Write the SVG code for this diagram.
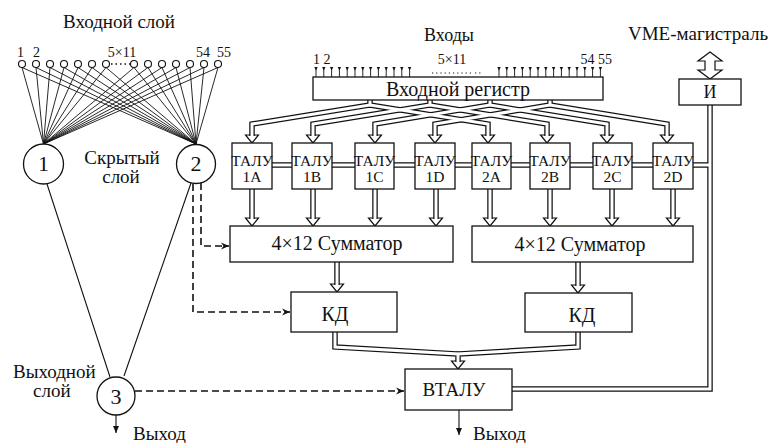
<svg xmlns="http://www.w3.org/2000/svg" width="775" height="443" viewBox="0 0 775 443" font-family="'Liberation Serif','Times New Roman',serif">
<defs>
<style>
text{font-family:"Liberation Serif","Times New Roman",serif;fill:#111}
.t19{font-size:19px}
.t20{font-size:20px}
.t14{font-size:14px}
.tl{font-size:15.5px}
.m{text-anchor:middle}
.box{fill:#fff;stroke:#111;stroke-width:1.3}
.thin{fill:none;stroke:#111;stroke-width:1.1}
.fan{fill:none;stroke:#111;stroke-width:0.9}
.busO{fill:none;stroke:#111;stroke-width:5.5;stroke-linejoin:miter}
.busI{fill:none;stroke:#fff;stroke-width:3;stroke-linejoin:miter}
.dash{fill:none;stroke:#111;stroke-width:1.6;stroke-dasharray:7 4}
.ah{fill:#fff;stroke:#111;stroke-width:1.2}
</style>
<path id="hah" d="M-6.5,0 H6.5 L0,8 Z"/>
<marker id="dArr" markerWidth="9" markerHeight="8" refX="8" refY="4" orient="auto" markerUnits="userSpaceOnUse"><path d="M0,0.5 L8,4 L0,7.5 L2.5,4 Z" fill="#111"/></marker>
<marker id="sArr" markerWidth="7" markerHeight="6" refX="7" refY="3" orient="auto" markerUnits="userSpaceOnUse"><path d="M0,0 L7,3 L0,6 Z" fill="#111"/></marker>
</defs>
<rect width="775" height="443" fill="#fff"/>

<!-- labels -->
<text class="t19 m" x="119" y="28">Входной слой</text>
<g class="t14">
<text class="m" x="20.5" y="57">1</text>
<text class="m" x="36.5" y="57">2</text>
<text class="m" x="122" y="57">5×11</text>
<text class="m" x="203" y="57">54</text>
<text class="m" x="224" y="57">55</text>
</g>
<text class="t19 m" x="122" y="164">Скрытый</text>
<text class="t19 m" x="121" y="183">слой</text>
<text class="t19" x="13" y="378">Выходной</text>
<text class="t19" x="33" y="397">слой</text>
<text class="t19" x="133" y="440">Выход</text>
<text class="t19" x="473" y="440">Выход</text>
<text class="m" style="font-size:18px" x="449" y="41">Входы</text>
<text class="t19" x="628" y="40">VME-магистраль</text>
<g class="t14">
<text x="313" y="64">1 2</text>
<text class="m" x="452" y="64">5×11</text>
<text x="612" y="64" style="text-anchor:end">54 55</text>
</g>

<!-- connectors -->
<g id="connectors">
<path class="fan" d="M22,67.5L43.5,144M36,67.5L43.5,144M50,67.5L43.5,144M64,67.5L43.5,144M78,67.5L43.5,144M92,67.5L43.5,144M106,67.5L43.5,144M134,67.5L43.5,144M148,67.5L43.5,144M162,67.5L43.5,144M176,67.5L43.5,144M190,67.5L43.5,144M204,67.5L43.5,144M218,67.5L43.5,144"/>
<path class="fan" d="M22,67.5L196,144M36,67.5L196,144M50,67.5L196,144M64,67.5L196,144M78,67.5L196,144M92,67.5L196,144M106,67.5L196,144M134,67.5L196,144M148,67.5L196,144M162,67.5L196,144M176,67.5L196,144M190,67.5L196,144M204,67.5L196,144M218,67.5L196,144"/>
<path d="M111,64H131" stroke="#111" stroke-width="1.4" stroke-dasharray="1.5 3" fill="none"/>
<path class="thin" d="M47,184L110,377M191,183L124,376"/>
<path class="dash" d="M201,183V246H229" marker-end="url(#dArr)"/>
<path class="dash" d="M193,184V312H290" marker-end="url(#dArr)"/>
<path class="dash" d="M135,391H404" marker-end="url(#dArr)"/>
<path class="thin" d="M116,415V433" marker-end="url(#sArr)"/>
<path class="thin" d="M459,410V435" marker-end="url(#sArr)"/>
<g fill="#111" stroke="#111" stroke-width="0.9">
<path d="M316,69V77M323.8,69V77M331.6,69V77M339.4,69V77M347.2,69V77M355,69V77M362.8,69V77M370.6,69V77M378.4,69V77M386.2,69V77M394,69V77M401.8,69V77M409.6,69V77"/>
<path d="M499,69V77M506.8,69V77M514.6,69V77M522.4,69V77M530.2,69V77M538,69V77M545.8,69V77M553.6,69V77M561.4,69V77M569.2,69V77M577,69V77M584.8,69V77M592.6,69V77M600.4,69V77"/>
<path stroke="none" d="M314.3,67h3.4l-1.7,3.5zM322.1,67h3.4l-1.7,3.5zM329.9,67h3.4l-1.7,3.5zM337.7,67h3.4l-1.7,3.5zM345.5,67h3.4l-1.7,3.5zM353.3,67h3.4l-1.7,3.5zM361.1,67h3.4l-1.7,3.5zM368.9,67h3.4l-1.7,3.5zM376.7,67h3.4l-1.7,3.5zM384.5,67h3.4l-1.7,3.5zM392.3,67h3.4l-1.7,3.5zM400.1,67h3.4l-1.7,3.5zM407.9,67h3.4l-1.7,3.5z"/>
<path stroke="none" d="M497.3,67h3.4l-1.7,3.5zM505.1,67h3.4l-1.7,3.5zM512.9,67h3.4l-1.7,3.5zM520.7,67h3.4l-1.7,3.5zM528.5,67h3.4l-1.7,3.5zM536.3,67h3.4l-1.7,3.5zM544.1,67h3.4l-1.7,3.5zM551.9,67h3.4l-1.7,3.5zM559.7,67h3.4l-1.7,3.5zM567.5,67h3.4l-1.7,3.5zM575.3,67h3.4l-1.7,3.5zM583.1,67h3.4l-1.7,3.5zM590.9,67h3.4l-1.7,3.5zM598.7,67h3.4l-1.7,3.5z"/>
</g>
<path d="M432,73H472M475,73H481" stroke="#111" stroke-width="1.2" stroke-dasharray="1.2 3" fill="none"/>
<path class="ah" d="M710,52 L722,61 L715,61 L715,70 L722,70 L710,79 L698,70 L705,70 L705,61 L698,61 Z"/>
<use href="#hah" class="ah" x="252" y="135"/>
<use href="#hah" class="ah" x="313" y="135"/>
<use href="#hah" class="ah" x="375" y="135"/>
<use href="#hah" class="ah" x="435" y="135"/>
<use href="#hah" class="ah" x="488" y="135"/>
<use href="#hah" class="ah" x="547" y="135"/>
<use href="#hah" class="ah" x="607" y="135"/>
<use href="#hah" class="ah" x="667" y="135"/>
<use href="#hah" class="ah" x="252" y="218"/>
<use href="#hah" class="ah" x="313" y="218"/>
<use href="#hah" class="ah" x="375" y="218"/>
<use href="#hah" class="ah" x="436" y="218"/>
<use href="#hah" class="ah" x="490" y="218"/>
<use href="#hah" class="ah" x="550" y="218"/>
<use href="#hah" class="ah" x="612" y="218"/>
<use href="#hah" class="ah" x="673" y="218"/>
<use href="#hah" class="ah" x="337" y="284"/>
<use href="#hah" class="ah" x="578" y="285"/>
<use href="#hah" class="ah" x="458" y="361"/>
<g class="busO">
<path d="M370,100V105L252,124V136M370,105L488,124V136"/>
<path d="M430,100V105L313,124V136M430,105L547,124V136"/>
<path d="M490,100V105L375,124V136M490,105L607,124V136"/>
<path d="M550,100V105L435,124V136M550,105L667,124V136"/>
<path d="M252,189V219M313,189V219M375,189V219M436,189V219M490,189V219M550,189V219M612,189V219M673,189V219"/>
<path d="M272,165H292M332,165H355M394,165H415M455,165H472M511,165H530M570,165H593M632,165H653M693,165H710"/>
<path d="M512,389H710V105"/>
<path d="M337,262V285M578,262V286"/>
<path d="M335,332V347L458,354V362M578,332V347L458,354V362"/>
</g>
<g class="busI">
<path d="M370,99V105L252,124V136.5M370,105L488,124V136.5"/>
<path d="M430,99V105L313,124V136.5M430,105L547,124V136.5"/>
<path d="M490,99V105L375,124V136.5M490,105L607,124V136.5"/>
<path d="M550,99V105L435,124V136.5M550,105L667,124V136.5"/>
<path d="M252,188V219.5M313,188V219.5M375,188V219.5M436,188V219.5M490,188V219.5M550,188V219.5M612,188V219.5M673,188V219.5"/>
<path d="M271,165H293M331,165H356M393,165H416M454,165H473M510,165H531M569,165H594M631,165H654M692,165H710"/>
<path d="M511,389H710V104"/>
<path d="M337,261V285.5M578,261V286.5"/>
<path d="M335,331V347L458,354V362.5M578,331V347L458,354V362.5"/>
</g>
</g>

<g id="input-layer" fill="#fff" stroke="#111" stroke-width="1.1">
<circle cx="22" cy="64" r="3.5"/><circle cx="36" cy="64" r="3.5"/><circle cx="50" cy="64" r="3.5"/><circle cx="64" cy="64" r="3.5"/><circle cx="78" cy="64" r="3.5"/><circle cx="92" cy="64" r="3.5"/><circle cx="106" cy="64" r="3.5"/>
<circle cx="134" cy="64" r="3.5"/><circle cx="148" cy="64" r="3.5"/><circle cx="162" cy="64" r="3.5"/><circle cx="176" cy="64" r="3.5"/><circle cx="190" cy="64" r="3.5"/><circle cx="204" cy="64" r="3.5"/><circle cx="218" cy="64" r="3.5"/>
</g>

<g id="n1"><circle class="box" cx="43.5" cy="164" r="20"/><text class="m" style="font-size:22px" x="43.5" y="171">1</text></g>
<g id="n2"><circle class="box" cx="196" cy="164" r="19.5"/><text class="m" style="font-size:22px" x="196" y="171">2</text></g>
<g id="n3"><circle class="box" cx="116" cy="396" r="19"/><text class="m" style="font-size:22px" x="116" y="404">3</text></g>

<g id="register"><rect class="box" x="313" y="77" width="290" height="23"/><text class="t20 m" x="458" y="96">Входной регистр</text></g>
<g id="iface"><rect class="box" x="679" y="79" width="62" height="26"/><text class="m" style="font-size:18px" x="710" y="98">И</text></g>

<g id="talu-1a"><rect class="box" x="232" y="143" width="40" height="46"/><text class="tl m" x="252" y="166">ТАЛУ</text><text class="tl m" x="252" y="182">1A</text></g>
<g id="talu-1b"><rect class="box" x="292" y="143" width="40" height="46"/><text class="tl m" x="312" y="166">ТАЛУ</text><text class="tl m" x="312" y="182">1B</text></g>
<g id="talu-1c"><rect class="box" x="355" y="143" width="39" height="46"/><text class="tl m" x="374.5" y="166">ТАЛУ</text><text class="tl m" x="374.5" y="182">1C</text></g>
<g id="talu-1d"><rect class="box" x="415" y="143" width="40" height="46"/><text class="tl m" x="435" y="166">ТАЛУ</text><text class="tl m" x="435" y="182">1D</text></g>
<g id="talu-2a"><rect class="box" x="472" y="143" width="39" height="46"/><text class="tl m" x="491.5" y="166">ТАЛУ</text><text class="tl m" x="491.5" y="182">2A</text></g>
<g id="talu-2b"><rect class="box" x="530" y="143" width="40" height="46"/><text class="tl m" x="550" y="166">ТАЛУ</text><text class="tl m" x="550" y="182">2B</text></g>
<g id="talu-2c"><rect class="box" x="593" y="143" width="39" height="46"/><text class="tl m" x="612.5" y="166">ТАЛУ</text><text class="tl m" x="612.5" y="182">2C</text></g>
<g id="talu-2d"><rect class="box" x="653" y="143" width="40" height="46"/><text class="tl m" x="673" y="166">ТАЛУ</text><text class="tl m" x="673" y="182">2D</text></g>

<g id="sum1"><rect class="box" x="230" y="226" width="223" height="36"/><text class="t20 m" x="337" y="250">4×12 Сумматор</text></g>
<g id="sum2"><rect class="box" x="472" y="226" width="221" height="36"/><text class="t20 m" x="580" y="251">4×12 Сумматор</text></g>
<g id="kd1"><rect class="box" x="291" y="292" width="106" height="40"/><text class="t20 m" x="335" y="321">КД</text></g>
<g id="kd2"><rect class="box" x="525" y="293" width="107" height="39"/><text class="t20 m" x="582" y="322">КД</text></g>
<g id="vtalu"><rect class="box" x="405" y="369" width="107" height="41"/><text class="t19 m" x="454" y="396">ВТАЛУ</text></g>
</svg>
